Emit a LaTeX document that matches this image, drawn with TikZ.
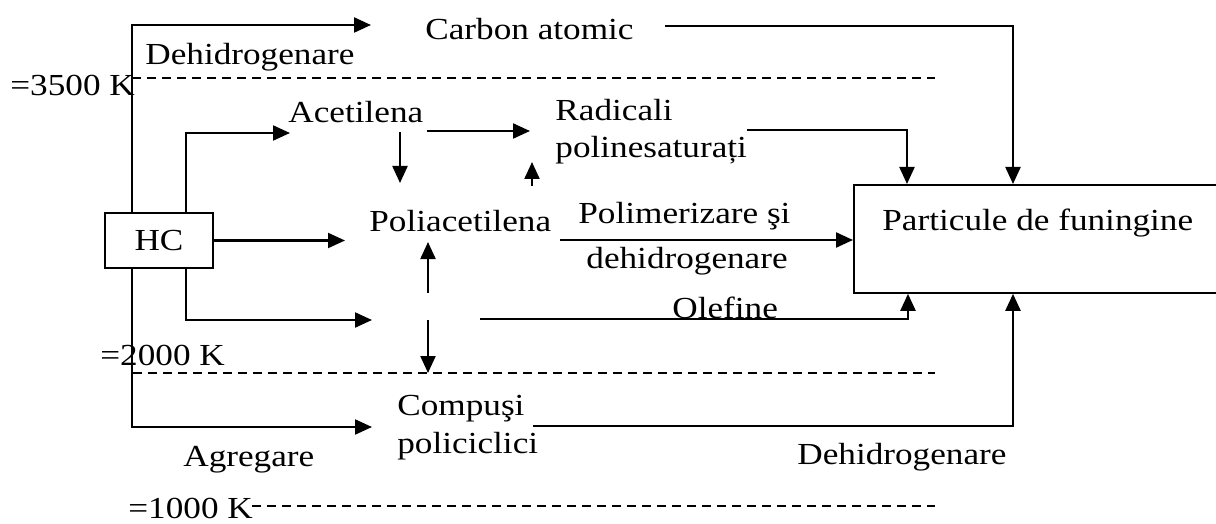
\documentclass[tikz,border=0pt]{standalone}
\usepackage{fontspec}
\setmainfont{Liberation Serif}[FakeStretch=1.15]
\usetikzlibrary{arrows.meta}
\begin{document}
\begin{tikzpicture}[x=0.5pt,y=-0.5pt,
  arr/.style={line width=1.1pt,-{Triangle[length=8.5pt,width=7.5pt]}},
  dsh/.style={line width=0.8pt,dash pattern=on 4.5pt off 3pt},
  txt/.style={anchor=base west,inner sep=0pt,font=\fontsize{15.3}{18}\selectfont},
  boxstyle/.style={draw,line width=0.9pt,inner sep=0pt}]
\useasboundingbox (0,0) rectangle (1216,524);
% boxes
\node[boxstyle,minimum width=54pt,minimum height=27.5pt,font=\fontsize{15.3}{18}\selectfont] (hc) at (159,240.5) {HC};
\node[boxstyle,anchor=north west,minimum width=190pt,minimum height=54pt] (soot) at (853,184) {};
% texts
\node[txt] (carbon) at (425,40) {Carbon atomic};
\node[txt] (dehtop) at (145,65) {Dehidrogenare};
\node[txt] (t3500) at (10,96) {=3500 K};
\node[txt] (acet) at (288,123) {Acetilena};
\node[txt] (rad1) at (555,120) {Radicali};
\node[txt] (rad2) at (555,157) {polinesaturați};
\node[txt] (poli) at (369,231) {Poliacetilena};
\node[txt] (polim1) at (578,223) {Polimerizare şi};
\node[txt] (polim2) at (586,268) {dehidrogenare};
\node[txt] (olef) at (672,318) {Olefine};
\node[txt] (t2000) at (100,365) {=2000 K};
\node[txt] (comp1) at (397,415) {Compuşi};
\node[txt] (comp2) at (397,453) {policiclici};
\node[txt] (agreg) at (183,466) {Agregare};
\node[txt] (dehbot) at (797,464) {Dehidrogenare};
\node[txt] (t1000) at (128,518) {=1000 K};
\node[txt] (part) at (882,230) {Particule de funingine};
% helper coordinates
\coordinate (xL) at (132,0);
\coordinate (xR) at (186,0);
\coordinate (xs) at (907,0);
\coordinate (xo) at (908,0);
\coordinate (xc) at (1013,0);
\coordinate (cTip) at (371,25);
\coordinate (aTip) at (290,133);
\coordinate (pTip) at (345,240.5);
\coordinate (lTip) at (372,320);
\coordinate (gTip) at (372,427);
\coordinate (a1) at (400,132);
\coordinate (a2) at (400,183);
\coordinate (r1) at (427,131);
\coordinate (r2) at (530,131);
\coordinate (u1) at (532,186);
\coordinate (u2) at (532,162);
\coordinate (v1) at (428,293);
\coordinate (v2) at (428,242);
\coordinate (w1) at (428,320);
\coordinate (w2) at (428,373);
\coordinate (q1) at (560,240);
\coordinate (s1) at (747,130);
\coordinate (c1) at (665,26);
\coordinate (o1) at (480,319);
\coordinate (k1) at (533,426);
\coordinate (d1a) at (132,78);
\coordinate (d1b) at (935,78);
\coordinate (d2a) at (133,373);
\coordinate (d2b) at (935,373);
\coordinate (d3a) at (252,506);
\coordinate (d3b) at (935,506);
% dashed temperature levels
\draw[dsh] (d1a) -- (d1b);
\draw[dsh] (d2a) -- (d2b);
\draw[dsh] (d3a) -- (d3b);
% connectors
\draw[arr] (hc.north -| xL) |- (cTip);
\draw[arr] (hc.north -| xR) |- (aTip);
\draw[arr] (hc.east) -- (pTip);
\draw[arr] (hc.south -| xR) |- (lTip);
\draw[arr] (hc.south -| xL) |- (gTip);
\draw[arr] (a1) -- (a2);
\draw[arr] (r1) -- (r2);
\draw[arr] (u1) -- (u2);
\draw[arr] (v1) -- (v2);
\draw[arr] (w1) -- (w2);
\draw[arr] (q1) -- (q1 -| soot.west);
\draw[arr] (s1) -| (xs |- soot.north);
\draw[arr] (c1) -| (xc |- soot.north);
\draw[arr] (o1) -| (xo |- soot.south);
\draw[arr] (k1) -| (xc |- soot.south);
\end{tikzpicture}
\end{document}
